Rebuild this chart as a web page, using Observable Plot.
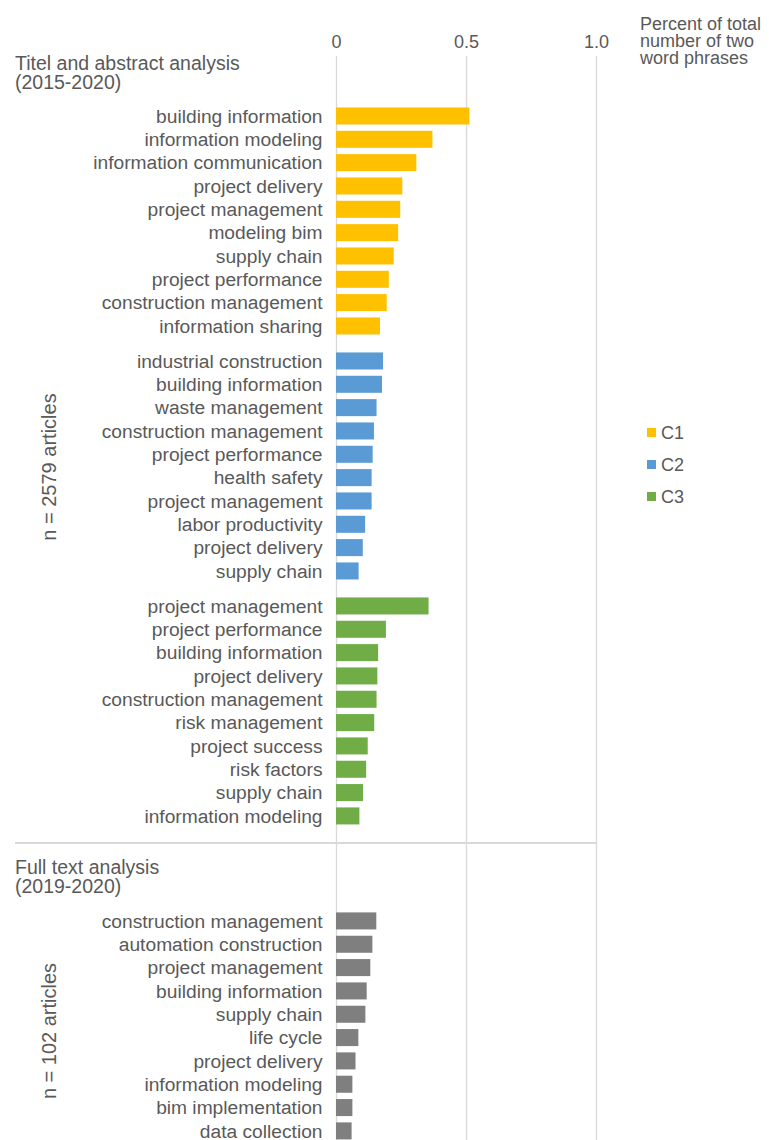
<!DOCTYPE html>
<html><head><meta charset="utf-8">
<script src="https://cdn.jsdelivr.net/npm/d3@7"></script>
<script src="https://cdn.jsdelivr.net/npm/@observablehq/plot@0.6"></script>
<style>
body{margin:0;background:#fff;font-family:"Liberation Sans",Arial,sans-serif;color:#595959}
#wrap{position:relative;width:769px;height:1140px;overflow:hidden}
.note{position:absolute;font-size:18px;white-space:nowrap;color:#595959}
.sw{position:absolute;width:9px;height:9px}
</style></head><body><div id="wrap"></div>
<script>
// ---- data ----
const c1Phrases = ["building information","information modeling","information communication","project delivery","project management","modeling bim","supply chain","project performance","construction management","information sharing"];
const c1Values = [0.513,0.371,0.309,0.255,0.247,0.239,0.222,0.203,0.195,0.169];
const c2Phrases = ["industrial construction","building information","waste management","construction management","project performance","health safety","project management","labor productivity","project delivery","supply chain"];
const c2Values = [0.181,0.177,0.156,0.146,0.141,0.137,0.137,0.112,0.103,0.087];
const c3Phrases = ["project management","project performance","building information","project delivery","construction management","risk management","project success","risk factors","supply chain","information modeling"];
const c3Values = [0.356,0.192,0.162,0.159,0.156,0.147,0.122,0.116,0.104,0.090];
const fullPhrases = ["construction management","automation construction","project management","building information","supply chain","life cycle","project delivery","information modeling","bim implementation","data collection"];
const fullValues = [0.155,0.140,0.132,0.118,0.113,0.086,0.075,0.063,0.063,0.060];
const clusters = ["C1","C2","C3"];
const clusterColors = ["#FFC000","#5B9BD5","#70AD47"];
const fullColor = "#7F7F7F";
const xTicks = [0, 0.5, 1.0];
const xTickLabels = ["0","0.5","1.0"];
const section1Title = ["Titel and abstract analysis","(2015-2020)"];
const section2Title = ["Full text analysis","(2019-2020)"];
const section1N = "n = 2579 articles";
const section2N = "n = 102 articles";
const axisTitle = ["Percent of total","number of two","word phrases"];

// ---- build rows (row index = position in list; groups separated by half a row) ----
const groups = [
  {key:"C1", phrases:c1Phrases, values:c1Values, start:0},
  {key:"C2", phrases:c2Phrases, values:c2Values, start:10.5},
  {key:"C3", phrases:c3Phrases, values:c3Values, start:21},
  {key:"full", phrases:fullPhrases, values:fullValues, start:34.5}
];
const rows = groups.flatMap(g => g.phrases.map((p,i) => ({key:g.key, phrase:p, value:g.values[i], row:g.start+i})));

const font = '"Liberation Sans", Arial, sans-serif';
const chart = Plot.plot({
  width:769, height:1140,
  marginLeft:336, marginRight:173, marginTop:56, marginBottom:0,
  style:{fontFamily:font, fontSize:"18px", color:"#595959", background:"transparent", overflow:"visible"},
  x:{domain:[0,1]},
  y:{domain:[-2.571, 43.89], range:[56,1140], axis:null},
  color:{domain:[...clusters,"full"], range:[...clusterColors, fullColor]},
  marks:[
    Plot.gridX(xTicks,{stroke:"#d9d9d9", strokeOpacity:1, strokeWidth:1.3}),
    Plot.axisX({anchor:"top", ticks:xTicks, tickSize:0, tickPadding:9, fontSize:18, fill:"#595959",
      tickFormat:d => xTickLabels[xTicks.indexOf(d)], label:null}),
    Plot.rectX(rows,{x1:0, x2:"value", y1:d => d.row-0.365, y2:d => d.row+0.365, fill:"key"}),
    Plot.text(rows,{x:0, y:"row", text:"phrase", textAnchor:"end", dx:-14, fontSize:19.2, fill:"#595959"})
  ]
});
const wrap = document.getElementById("wrap");
wrap.appendChild(chart);

function note(lines, left, top, lh, fs){
  const d = document.createElement("div");
  d.className = "note";
  d.style.left = left+"px"; d.style.top = top+"px"; d.style.lineHeight = lh+"px";
  if (fs) d.style.fontSize = fs+"px";
  d.innerHTML = lines.join("<br>");
  wrap.appendChild(d);
  return d;
}
note(axisTitle, 640, 16, 16.8, 18);
note(section1Title, 15, 54, 19, 19.5);
note(section2Title, 15, 858, 19, 19.5);
function rot(text, cx, cy){
  const d = document.createElement("div");
  d.className = "note";
  d.style.left = cx+"px"; d.style.top = cy+"px"; d.style.lineHeight = "20px";
  d.style.fontSize = "20px";
  d.style.transform = "translate(-50%,-50%) rotate(-90deg)";
  d.textContent = text;
  wrap.appendChild(d);
}
rot(section1N, 49, 467);
rot(section2N, 49, 1031);
// separator
const sep = document.createElement("div");
sep.style.cssText = "position:absolute;left:15px;top:842px;width:582px;height:1.5px;background:#d9d9d9";
wrap.appendChild(sep);
// legend
clusters.forEach((c,i) => {
  const s = document.createElement("div");
  s.className = "sw";
  s.style.left = "647px"; s.style.top = (428 + i*32)+"px"; s.style.background = clusterColors[i];
  wrap.appendChild(s);
  note([c], 661, 423 + i*32, 20, 18);
});
</script>
</body></html>
